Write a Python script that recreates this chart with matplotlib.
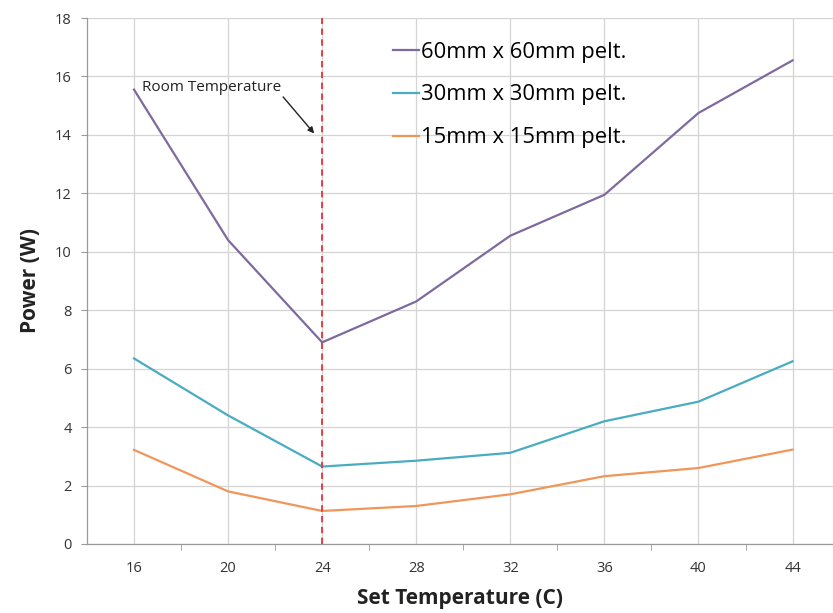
import numpy as np
import matplotlib
matplotlib.use('Agg')
import matplotlib.pyplot as plt

# data
temps = ['16', '20', '24', '28', '32', '36', '40', '44']
p60 = [15.55, 10.4, 6.9, 8.3, 10.55, 11.95, 14.75, 16.55]
p30 = [6.35, 4.4, 2.65, 2.85, 3.12, 4.2, 4.87, 6.25]
p15 = [3.22, 1.8, 1.13, 1.3, 1.7, 2.32, 2.6, 3.23]
names = ['60mm x 60mm pelt.', '30mm x 30mm pelt.', '15mm x 15mm pelt.']
room_temp = '24'

plt.rcParams['font.family'] = ['Open Sans', 'DejaVu Sans']

fig = plt.figure(figsize=(8.33, 6.13), dpi=100)
ax = fig.add_axes([0.1044, 0.1126, 0.8956, 0.8580])

x = np.arange(len(temps))
ax.plot(x, p60, c='#7f6a9f', lw=1.6, label=names[0])
ax.plot(x, p30, c='#4aacc0', lw=1.6, label=names[1])
ax.plot(x, p15, c='#f0965a', lw=1.6, label=names[2])

# room temperature marker
xr = temps.index(room_temp)
ax.axvline(xr, c='#e8303a', lw=1.3, ls=(0, (3.5, 2.5)), zorder=3)
ax.text(0.085, 15.5, 'Room Temperature', fontsize=11, color='#222222')
ax.annotate('', xy=(xr - 0.085, 14.05), xytext=(xr - 0.415, 15.3),
            arrowprops=dict(arrowstyle='-|>', color='#222222', lw=1.0,
                            mutation_scale=9, shrinkA=0, shrinkB=0))

ax.set_xlim(-0.5, 7.43)
ax.set_ylim(0, 18)
ax.set_yticks(np.arange(0, 19, 2))
ax.set_xticks(x)
ax.set_xticklabels(temps)
ax.set_xticks(x[:-1] + 0.5, minor=True)

ax.grid(True, which='major', color='#d4d4d4', lw=0.9)
ax.set_axisbelow(True)
for s in ['top', 'right']:
    ax.spines[s].set_visible(False)
for s in ['left', 'bottom']:
    ax.spines[s].set_color('#9a9a9a')
    ax.spines[s].set_linewidth(0.9)

ax.tick_params(axis='y', which='major', length=4, color='#9a9a9a',
               labelsize=10.5, pad=7, labelcolor='#333333')
ax.tick_params(axis='x', which='major', length=0, labelsize=10.5, pad=12,
               labelcolor='#333333')
ax.tick_params(axis='x', which='minor', length=4, color='#9a9a9a')

ax.set_xlabel('Set Temperature (C)', fontsize=15, fontweight='bold',
              labelpad=9, color='#222222')
ax.set_ylabel('Power (W)', fontsize=15, fontweight='bold', labelpad=10,
              color='#222222')

ax.legend(loc='upper left', bbox_to_anchor=(0.399, 0.972), fontsize=15.8,
          frameon=False, handlelength=1.15, handletextpad=0.1,
          labelspacing=1.0, borderaxespad=0)

fig.savefig('out.png', dpi=100)
